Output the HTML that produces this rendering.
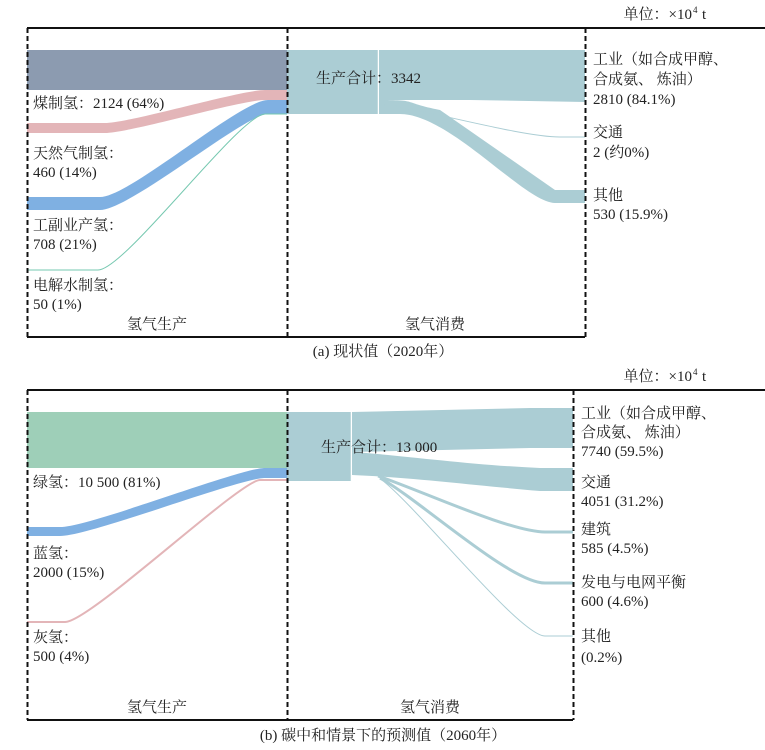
<!DOCTYPE html>
<html><head><meta charset="utf-8"><style>
html,body{margin:0;padding:0;background:#fff;}
svg{display:block;font-family:"Liberation Serif","Noto Serif CJK SC",serif;}
text{font-size:15px;fill:#222;}
</style></head><body>
<svg width="765" height="750" viewBox="0 0 765 750">
<!-- ===== Panel A ===== -->
<text x="692" y="19" text-anchor="end">单位：×10</text><text x="693" y="13" style="font-size:9px">4</text><text x="702" y="19">t</text>
<line x1="27" y1="28" x2="765" y2="28" stroke="#111" stroke-width="2"/>
<line x1="27" y1="337" x2="585" y2="337" stroke="#111" stroke-width="2"/>
<rect x="27" y="50" width="260" height="40" fill="#8c9bb0"/>
<path d="M27,123 L105,123 C130,123 240,90 265,90 L287,90 L287,100 L265,100 C240,100 130,133 105,133 L27,133Z" fill="#e3b5b8"/>
<path d="M27,197 L100,197 C130,197 240,100 268,100 L287,100 L287,114 L268,114 C245,114 130,210 100,210 L27,210Z" fill="#7fb0e2"/>
<path d="M27,270 L98,270 C125,270 240,114 265,114 L287,114" fill="none" stroke="#76c8b0" stroke-width="1"/>
<rect x="287" y="50" width="91" height="64" fill="#abcdd4"/>
<line x1="378.5" y1="50" x2="378.5" y2="114" stroke="#fff" stroke-width="1.5"/>
<path d="M379,50 L585,50 L585,102 L470,100 C430,100 400,100 379,100Z" fill="#abcdd4"/>
<path d="M379,100 C420,100 400,102 440,110 L555,190 L585,190 L585,203 L555,203 C525,203 450,114 400,114 L379,114Z" fill="#abcdd4"/>
<path d="M380,104 C420,108 520,137 560,137 L585,137" fill="none" stroke="#abcdd4" stroke-width="1"/>
<text x="316" y="83">生产合计：3342</text>
<text x="33" y="108">煤制氢：2124 (64%)</text>
<text x="33" y="158">天然气制氢：</text><text x="33" y="177">460 (14%)</text>
<text x="33" y="230">工副业产氢：</text><text x="33" y="249">708 (21%)</text>
<text x="33" y="290">电解水制氢：</text><text x="33" y="309">50 (1%)</text>
<text x="157" y="329" text-anchor="middle">氢气生产</text>
<text x="435" y="329" text-anchor="middle">氢气消费</text>
<text x="593" y="64">工业（如合成甲醇、</text>
<text x="593" y="84">合成氨、 炼油）</text>
<text x="593" y="104">2810 (84.1%)</text>
<text x="593" y="137">交通</text><text x="593" y="157">2 (约0%)</text>
<text x="593" y="200">其他</text><text x="593" y="219">530 (15.9%)</text>
<text x="383" y="356" text-anchor="middle">(a) 现状值（2020年）</text>
<line x1="27.5" y1="28" x2="27.5" y2="337" stroke="#111" stroke-width="2" stroke-dasharray="5,3"/>
<line x1="287.5" y1="28" x2="287.5" y2="337" stroke="#111" stroke-width="2" stroke-dasharray="5,3"/>
<line x1="585.5" y1="28" x2="585.5" y2="337" stroke="#111" stroke-width="2" stroke-dasharray="5,3"/>

<!-- ===== Panel B ===== -->
<text x="692" y="381" text-anchor="end">单位：×10</text><text x="693" y="375" style="font-size:9px">4</text><text x="702" y="381">t</text>
<line x1="27" y1="390" x2="765" y2="390" stroke="#111" stroke-width="2"/>
<line x1="27" y1="720" x2="573" y2="720" stroke="#111" stroke-width="2"/>
<rect x="27" y="412" width="260" height="56" fill="#9ecfb8"/>
<path d="M27,527 L60,527 C90,527 240,468 265,468 L287,468 L287,478 L265,478 C240,478 90,536 60,536 L27,536Z" fill="#7fb0e2"/>
<path d="M27,622 L65,622 C90,622 240,480 260,480 L287,480" fill="none" stroke="#e3b5b8" stroke-width="2"/>
<rect x="287" y="412" width="64" height="69" fill="#abcdd4"/>
<line x1="351.5" y1="412" x2="351.5" y2="481" stroke="#fff" stroke-width="1.5"/>
<path d="M352,412 L530,408 L573,408 L573,448 L530,448 L352,452Z" fill="#abcdd4"/>
<path d="M352,452 C400,455 470,465 540,468 L573,468 L573,491 L540,491 C470,485 420,478 352,475Z" fill="#abcdd4"/>
<path d="M378,476 C420,490 510,532 545,532 L573,532" fill="none" stroke="#abcdd4" stroke-width="3"/>
<path d="M380,478 C420,500 510,583 545,583 L573,583" fill="none" stroke="#abcdd4" stroke-width="3"/>
<path d="M382,480 C420,510 520,636 545,636 L573,636" fill="none" stroke="#abcdd4" stroke-width="1"/>
<text x="321" y="452">生产合计：13 000</text>
<text x="33" y="487">绿氢：10 500 (81%)</text>
<text x="33" y="558">蓝氢：</text><text x="33" y="577">2000 (15%)</text>
<text x="33" y="642">灰氢：</text><text x="33" y="661">500 (4%)</text>
<text x="157" y="712" text-anchor="middle">氢气生产</text>
<text x="430" y="712" text-anchor="middle">氢气消费</text>
<text x="581" y="418">工业（如合成甲醇、</text>
<text x="581" y="437">合成氨、 炼油）</text>
<text x="581" y="456">7740 (59.5%)</text>
<text x="581" y="487">交通</text><text x="581" y="506">4051 (31.2%)</text>
<text x="581" y="534">建筑</text><text x="581" y="553">585 (4.5%)</text>
<text x="581" y="587">发电与电网平衡</text><text x="581" y="606">600 (4.6%)</text>
<text x="581" y="641">其他</text><text x="581" y="662">(0.2%)</text>
<text x="383" y="740" text-anchor="middle">(b) 碳中和情景下的预测值（2060年）</text>
<line x1="27.5" y1="390" x2="27.5" y2="720" stroke="#111" stroke-width="2" stroke-dasharray="5,3"/>
<line x1="287.5" y1="390" x2="287.5" y2="720" stroke="#111" stroke-width="2" stroke-dasharray="5,3"/>
<line x1="573.5" y1="390" x2="573.5" y2="720" stroke="#111" stroke-width="2" stroke-dasharray="5,3"/>
</svg>
</body></html>
